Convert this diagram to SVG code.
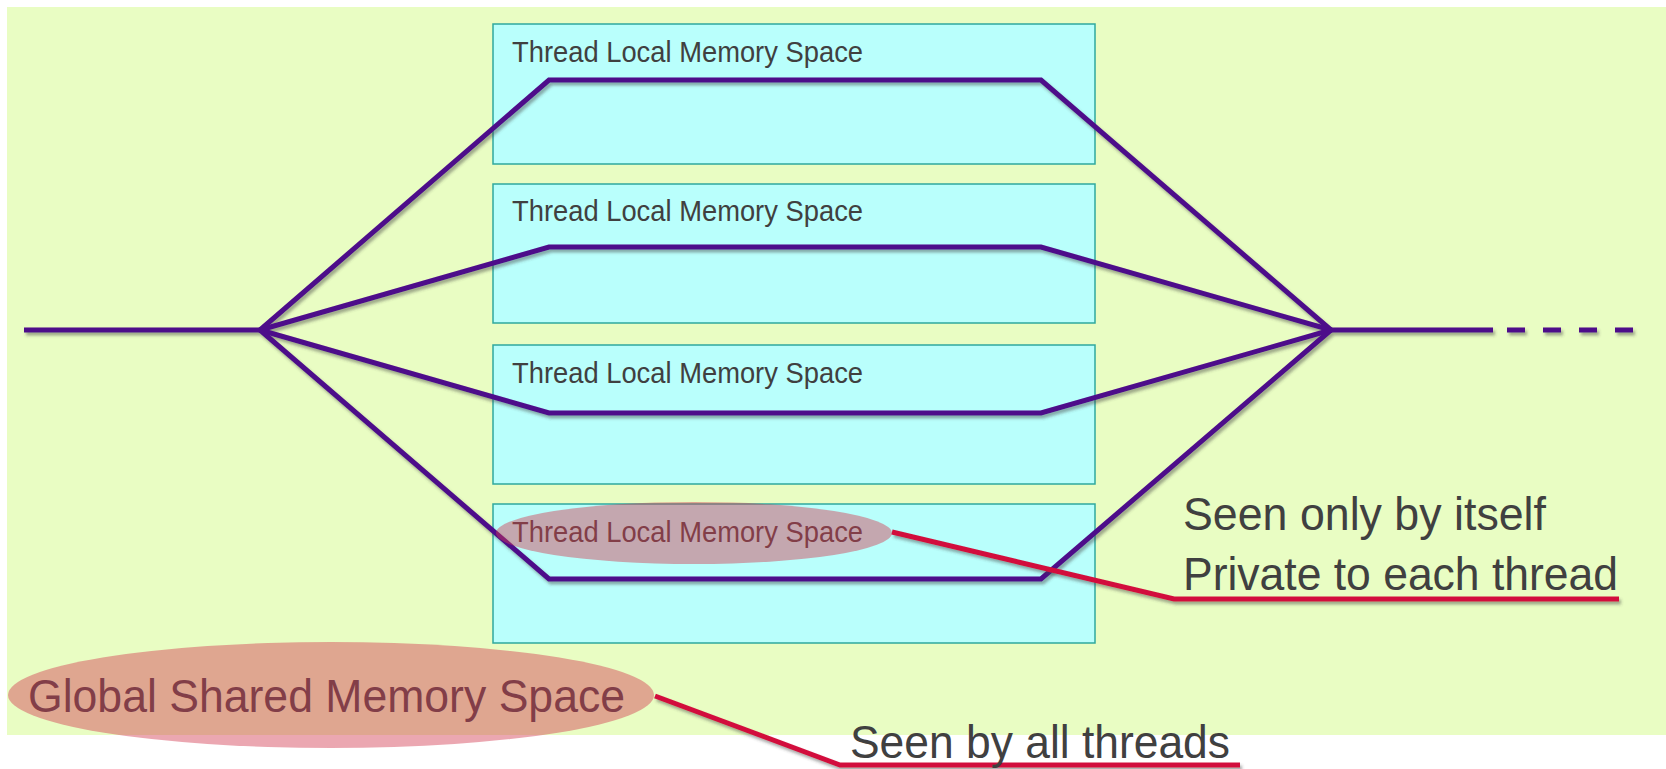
<svg xmlns="http://www.w3.org/2000/svg" width="1666" height="769" viewBox="0 0 1666 769">
  <defs>
    <filter id="sh" x="-5%" y="-20%" width="110%" height="140%">
      <feDropShadow dx="2" dy="3" stdDeviation="1.5" flood-color="#404040" flood-opacity="0.45"/>
    </filter>
    <style>
      .box { fill: #B9FFFC; stroke: #2FA89E; stroke-width: 1.5; }
      .lbl { font-family: "Liberation Sans", Arial, sans-serif; font-size: 29px; fill: #404040; }
      .big { font-family: "Liberation Sans", Arial, sans-serif; font-size: 47px; fill: #404040; }
      .thr { fill: none; stroke: #4E0A8A; stroke-width: 5; stroke-linejoin: miter; stroke-linecap: butt; }
      .red { fill: none; stroke: #D2103C; stroke-width: 5; }
      .hl { fill: #D23B51; fill-opacity: 0.45; }
    </style>
  </defs>
  <rect x="0" y="0" width="1666" height="769" fill="#FFFFFF"/>
  <rect x="7" y="7" width="1659" height="728" fill="#E9FDC3"/>

  <g id="box1">
    <rect class="box" x="493" y="24" width="602" height="140"/>
    <text class="lbl" x="512" y="62" textLength="351" lengthAdjust="spacingAndGlyphs">Thread Local Memory Space</text>
  </g>
  <g id="box2">
    <rect class="box" x="493" y="184" width="602" height="139"/>
    <text class="lbl" x="512" y="221" textLength="351" lengthAdjust="spacingAndGlyphs">Thread Local Memory Space</text>
  </g>
  <g id="box3">
    <rect class="box" x="493" y="345" width="602" height="139"/>
    <text class="lbl" x="512" y="383" textLength="351" lengthAdjust="spacingAndGlyphs">Thread Local Memory Space</text>
  </g>
  <g id="box4">
    <rect class="box" x="493" y="504" width="602" height="139"/>
    <text class="lbl" x="512" y="542" textLength="351" lengthAdjust="spacingAndGlyphs">Thread Local Memory Space</text>
  </g>

  <g id="connectors">
    <g filter="url(#sh)">
      <path class="thr" d="M24,330 H260"/>
      <path class="thr" d="M260,330 L549,80 H1041 L1331,330"/>
      <path class="thr" d="M260,330 L549,247 H1041 L1331,330"/>
      <path class="thr" d="M260,330 L549,413 H1041 L1331,330"/>
      <path class="thr" d="M260,330 L549,579 H1041 L1331,330"/>
      <path class="thr" d="M1331,330 H1493"/>
      <path class="thr" d="M1507,330 H1633" stroke-dasharray="18 18"/>
    </g>
  </g>

  <g id="local-highlight">
    <ellipse class="hl" cx="694" cy="533" rx="198" ry="31"/>
  </g>

  <g id="global">
    <text class="big" x="28" y="712" textLength="597" lengthAdjust="spacingAndGlyphs">Global Shared Memory Space</text>
    <ellipse class="hl" cx="331" cy="695" rx="323" ry="53"/>
  </g>

  <g id="callouts">
    <g filter="url(#sh)">
      <path class="red" d="M892,532 L1174,599 H1619"/>
      <path class="red" d="M655,696 L840,765 H1240"/>
    </g>
    <text class="big" x="1183" y="530" textLength="363" lengthAdjust="spacingAndGlyphs">Seen only by itself</text>
    <text class="big" x="1183" y="590" textLength="435" lengthAdjust="spacingAndGlyphs">Private to each thread</text>
    <text class="big" x="850" y="758" textLength="380" lengthAdjust="spacingAndGlyphs">Seen by all threads</text>
  </g>
</svg>
